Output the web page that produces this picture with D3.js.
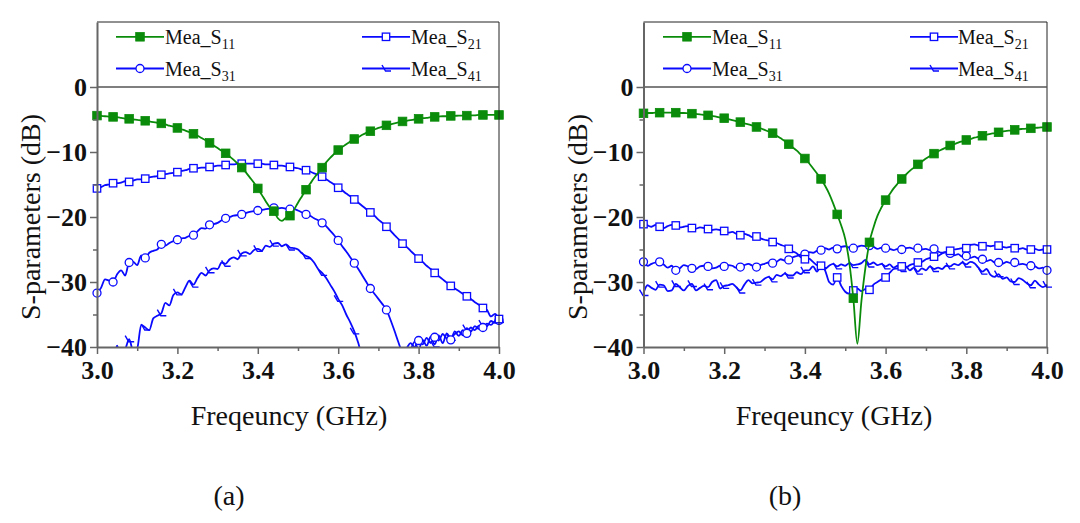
<!DOCTYPE html>
<html>
<head>
<meta charset="utf-8">
<script src="https://cdnjs.cloudflare.com/ajax/libs/d3/7.8.5/d3.min.js"></script>
<style>
  html, body { margin: 0; padding: 0; background: #fff; }
  svg { display: block; }
</style>
</head>
<body>
<svg id="chart" width="1080" height="523"></svg>
<script>
// ---------- data ----------
const freq = d3.range(101).map(i => +(3 + i * 0.01).toFixed(2)); // 3.00 .. 4.00 GHz
const xTicks = [3.0, 3.2, 3.4, 3.6, 3.8, 4.0];
const xMinorTicks = [3.1, 3.3, 3.5, 3.7, 3.9];
const yTicks = [0, -10, -20, -30, -40];
const yMinorTicks = [-5, -15, -25, -35];
const seriesNames = ["S11", "S21", "S31", "S41"];
const panelLabels = ["(a)", "(b)"];

// Panel (a)
const a_S11 = [-4.4,-4.45,-4.5,-4.55,-4.6,-4.65,-4.75,-4.85,-4.9,-5.0,-5.05,-5.15,-5.2,-5.3,-5.4,-5.5,-5.6,-5.75,-5.95,-6.1,
 -6.3,-6.5,-6.7,-6.95,-7.2,-7.5,-7.85,-8.2,-8.6,-9.0,-9.4,-9.8,-10.2,-10.7,-11.2,-11.8,-12.4,-13.1,-13.9,-14.7,
 -15.6,-16.6,-17.6,-18.5,-19.1,-20.2,-20.6,-20.1,-19.8,-18.9,-17.8,-16.8,-15.8,-14.9,-14.0,-13.2,-12.4,-11.6,-10.9,-10.3,
 -9.7,-9.25,-8.8,-8.4,-8.0,-7.7,-7.35,-7.05,-6.8,-6.55,-6.3,-6.1,-5.9,-5.75,-5.6,-5.45,-5.3,-5.2,-5.1,-5.0,
 -4.9,-4.8,-4.75,-4.65,-4.6,-4.55,-4.5,-4.5,-4.45,-4.45,-4.4,-4.4,-4.4,-4.35,-4.35,-4.3,-4.3,-4.3,-4.3,-4.3,-4.3];
const a_S21 = [-15.6,-15.4,-15.1,-15.0,-14.8,-14.8,-14.7,-14.5,-14.6,-14.4,-14.2,-14.2,-14.1,-13.9,-13.8,-13.7,-13.5,-13.4,-13.3,-13.2,
 -13.1,-12.9,-12.8,-12.6,-12.5,-12.5,-12.4,-12.4,-12.3,-12.2,-12.1,-12.1,-12.0,-11.9,-11.9,-11.8,-11.8,-11.8,-11.8,-11.8,
 -11.8,-11.8,-11.9,-11.9,-12.0,-12.1,-12.1,-12.2,-12.3,-12.4,-12.5,-12.7,-12.8,-13.0,-13.3,-13.5,-13.8,-14.2,-14.6,-15.0,
 -15.5,-15.9,-16.4,-16.8,-17.3,-17.8,-18.3,-18.8,-19.3,-19.8,-20.4,-20.9,-21.5,-22.1,-22.8,-23.4,-24.1,-24.6,-25.2,-25.8,
 -26.4,-26.9,-27.5,-28.0,-28.6,-29.1,-29.6,-30.1,-30.6,-31.0,-31.4,-31.8,-32.2,-32.6,-33.1,-33.5,-34.0,-34.3,-35.3,-34.9,-35.7];
const a_S31 = [-31.7,-30.9,-29.6,-29.8,-30.0,-28.8,-28.2,-29.0,-27.0,-26.9,-27.4,-25.9,-26.3,-25.5,-25.2,-25.0,-24.2,-24.4,-24.0,-23.7,
 -23.5,-23.3,-23.2,-22.9,-22.8,-22.2,-21.7,-21.8,-21.2,-21.1,-20.9,-20.5,-20.2,-20.0,-19.8,-19.7,-19.6,-19.4,-19.2,-19.1,
 -19.0,-18.9,-18.8,-18.7,-18.6,-18.7,-18.6,-18.7,-18.8,-18.8,-19.0,-19.3,-19.6,-19.8,-20.2,-20.5,-20.9,-21.4,-22.1,-22.8,
 -23.6,-24.5,-25.3,-26.2,-27.1,-28.0,-29.0,-30.0,-31.0,-31.8,-32.6,-33.4,-34.3,-35.8,-37.5,-39.3,-40.8,-40.2,-39.4,-40.0,
 -39.0,-39.6,-38.6,-39.4,-38.5,-39.0,-38.0,-38.7,-38.9,-37.6,-38.3,-37.4,-37.9,-37.0,-37.4,-36.7,-37.0,-36.4,-36.6,-36.0,-35.9];
const a_S41 = [-42,-42,-42,-42,-42,-39.8,-42,-40.5,-38.8,-40.6,-40.2,-36.6,-37.0,-37.4,-35.6,-35.2,-34.8,-33.2,-33.6,-32.0,
 -31.6,-31.9,-30.8,-29.8,-30.4,-29.4,-28.6,-29.0,-28.2,-27.9,-28.0,-27.0,-27.2,-26.5,-26.2,-26.5,-25.6,-25.4,-25.7,-25.1,
 -24.9,-25.2,-24.4,-24.6,-24.1,-24.0,-24.5,-24.2,-24.7,-24.8,-25.0,-25.6,-26.0,-26.3,-27.0,-28.0,-28.6,-29.4,-30.4,-31.4,
 -32.6,-33.6,-35.0,-36.2,-37.6,-39.4,-41.5,-42,-42,-42,-42,-42,-42,-42,-42,-42,-42,-42,-40.5,-39.2,
 -40.4,-38.9,-39.8,-38.4,-39.6,-38.2,-39.4,-37.9,-38.6,-38.0,-37.6,-38.2,-37.1,-37.6,-36.8,-37.2,-36.4,-36.8,-36.0,-36.3,-35.8];

// Panel (b)
const b_S11 = [-4.05,-4.0,-4.0,-3.95,-3.95,-3.95,-3.95,-3.95,-3.95,-4.0,-4.0,-4.05,-4.1,-4.15,-4.2,-4.3,-4.36,-4.45,-4.55,-4.7,
 -4.8,-4.95,-5.1,-5.25,-5.4,-5.6,-5.75,-5.95,-6.15,-6.35,-6.6,-6.85,-7.1,-7.5,-7.9,-8.3,-8.8,-9.3,-9.8,-10.4,
 -11.0,-11.7,-12.5,-13.3,-14.15,-15.2,-16.4,-17.9,-19.6,-21.3,-23.4,-27.0,-32.5,-39.5,-33.0,-27.8,-23.9,-21.6,-19.8,-18.5,
 -17.4,-16.5,-15.6,-14.85,-14.15,-13.5,-12.9,-12.4,-11.9,-11.45,-11.0,-10.6,-10.25,-9.9,-9.6,-9.3,-9.0,-8.8,-8.55,-8.35,
 -8.15,-8.0,-7.8,-7.65,-7.5,-7.35,-7.2,-7.1,-6.97,-6.85,-6.75,-6.7,-6.6,-6.5,-6.45,-6.4,-6.36,-6.3,-6.25,-6.2,-6.15];
const b_S21 = [-21.1,-21.3,-21.5,-21.2,-21.5,-21.7,-21.4,-21.2,-21.3,-21.6,-21.5,-21.4,-21.7,-21.8,-21.6,-21.7,-21.85,-22.0,-21.9,-22.0,
 -22.15,-22.4,-22.3,-22.6,-22.8,-22.6,-22.8,-23.1,-23.0,-23.3,-23.5,-23.6,-23.85,-24.0,-24.3,-24.5,-24.9,-25.3,-25.6,-26.2,
 -26.5,-26.4,-26.9,-27.4,-27.5,-28.2,-30.0,-30.4,-29.3,-30.6,-31.5,-31.8,-31.3,-31.0,-31.4,-31.1,-31.2,-30.4,-30.0,-29.6,
 -29.3,-28.6,-28.0,-27.9,-27.6,-27.8,-27.4,-27.2,-27.0,-26.9,-26.5,-26.3,-26.1,-26.0,-25.6,-25.4,-25.2,-25.0,-24.9,-24.8,
 -24.8,-24.3,-24.2,-24.4,-24.5,-24.4,-24.5,-24.4,-24.4,-24.6,-24.7,-24.6,-24.8,-24.9,-24.8,-25.0,-25.0,-24.9,-25.1,-25.0,-25.0];
const b_S31 = [-26.9,-27.5,-27.2,-27.0,-26.9,-27.3,-27.8,-27.5,-28.2,-27.9,-27.4,-27.6,-27.9,-28.0,-27.6,-27.5,-27.6,-27.9,-27.8,-27.5,
 -27.6,-27.4,-27.5,-27.8,-27.7,-27.4,-27.2,-27.5,-27.7,-27.4,-27.2,-27.0,-27.1,-26.9,-26.5,-26.7,-26.6,-26.2,-26.0,-25.8,
 -25.7,-25.4,-25.5,-25.2,-25.1,-24.8,-25.0,-24.7,-24.9,-24.6,-24.5,-24.7,-24.8,-24.6,-24.4,-24.5,-24.4,-24.6,-24.9,-24.7,
 -24.8,-24.9,-25.1,-24.9,-25.0,-24.8,-24.7,-24.9,-24.8,-25.0,-24.9,-25.1,-24.9,-25.3,-25.5,-25.4,-25.6,-25.9,-25.7,-26.1,
 -26.0,-26.3,-26.1,-26.4,-26.5,-26.8,-26.6,-27.0,-27.0,-27.2,-26.9,-27.1,-27.0,-27.3,-27.2,-27.4,-27.5,-27.6,-27.9,-27.8,-28.2];
const b_S41 = [-31.7,-30.5,-30.9,-31.2,-30.4,-30.5,-31.4,-31.3,-30.3,-30.8,-31.3,-30.6,-30.3,-31.3,-30.9,-30.6,-30.8,-30.0,-29.7,-31.0,
 -30.6,-30.5,-30.3,-30.8,-31.3,-30.4,-29.7,-30.2,-30.1,-30.0,-29.5,-29.2,-29.6,-28.9,-29.1,-28.7,-29.0,-29.0,-28.5,-28.8,
 -28.2,-28.2,-27.6,-28.4,-27.4,-28.0,-27.5,-27.2,-27.6,-27.3,-27.5,-27.1,-27.4,-27.3,-27.1,-26.6,-27.3,-27.0,-27.4,-27.2,
 -27.6,-27.3,-27.8,-27.5,-28.0,-27.6,-28.2,-27.8,-28.4,-27.9,-28.2,-27.6,-28.0,-27.8,-28.0,-27.5,-27.6,-27.2,-27.4,-27.0,
 -27.3,-26.9,-27.1,-27.8,-28.4,-28.0,-28.9,-29.2,-28.8,-29.5,-29.3,-29.9,-30.0,-29.4,-29.7,-30.2,-30.5,-29.8,-30.4,-30.8,-30.4];

// ---------- drawing ----------
const SERIF = "'Liberation Serif', 'Times New Roman', serif";
const svg = d3.select("#chart");
const GREEN = "#0a8c0a";
const BLUE = "#0a0aff";

const panels = [
  { left: 97, right: 499, series: [a_S11, a_S21, a_S31, a_S41], label: panelLabels[0], labelX: 229, titleX: 289, yTitleX: 30,
    legend: { c1Line: [116, 164], c1Text: 165, c2Line: [362, 410], c2Text: 411 } },
  { left: 643.5, right: 1047, series: [b_S11, b_S21, b_S31, b_S41], label: panelLabels[1], labelX: 785, titleX: 834, yTitleX: 577,
    legend: { c1Line: [663, 711], c1Text: 712, c2Line: [910, 958], c2Text: 958 } }
];

const TOP = 22, BOTTOM = 347;
const styles = [
  { color: GREEN, marker: "fsquare" },
  { color: BLUE, marker: "osquare" },
  { color: BLUE, marker: "circle" },
  { color: BLUE, marker: "hook" }
];

function drawMarker(sel, type, color) {
  if (type === "fsquare") {
    sel.append("rect").attr("x", -4.3).attr("y", -4.3).attr("width", 8.6).attr("height", 8.6)
      .attr("fill", color).attr("stroke", color).attr("stroke-width", 0.8);
  } else if (type === "osquare") {
    sel.append("rect").attr("x", -3.7).attr("y", -3.7).attr("width", 7.4).attr("height", 7.4)
      .attr("fill", "#fff").attr("stroke", color).attr("stroke-width", 1.3);
  } else if (type === "circle") {
    sel.append("circle").attr("r", 4).attr("fill", "#fff").attr("stroke", color).attr("stroke-width", 1.3);
  } else {
    sel.append("path").attr("d", "M-4,-3.5 L-0.5,2.5 L5,2.5").attr("fill", "none")
      .attr("stroke", color).attr("stroke-width", 1.4);
  }
}

function serif(sel) { return sel.style("font-family", SERIF).style("fill", "#111"); }

panels.forEach((p, pi) => {
  const x = d3.scaleLinear().domain([3.0, 4.0]).range([p.left, p.right]);
  const y = d3.scaleLinear().domain([-40, 10]).range([BOTTOM, TOP]);
  const g = svg.append("g");

  const clipId = "clip" + pi;
  svg.append("defs").append("clipPath").attr("id", clipId)
    .append("rect").attr("x", p.left - 8).attr("y", y(0))
    .attr("width", p.right - p.left + 16).attr("height", y(-40) - y(0));

  // series
  const line = d3.line().x((d, i) => x(freq[i])).y(d => y(d)).curve(d3.curveMonotoneX);
  const plot = g.append("g").attr("clip-path", `url(#${clipId})`);
  [3, 2, 1, 0].forEach(si => {
    const vals = p.series[si];
    const st = styles[si];
    plot.append("path").datum(vals).attr("d", line)
      .attr("fill", "none").attr("stroke", st.color).attr("stroke-width", 1.8)
      .attr("stroke-linejoin", "round");
    const mk = vals.map((v, i) => ({ v, i })).filter(d => d.i % 4 === 0);
    mk.forEach(d => {
      const m = plot.append("g").attr("transform", `translate(${x(freq[d.i])},${y(d.v)})`);
      drawMarker(m, st.marker, st.color);
    });
  });

  // frame: top, right, legend separator
  g.append("line").attr("x1", p.left).attr("x2", p.right).attr("y1", TOP).attr("y2", TOP)
    .attr("stroke", "#222").attr("stroke-width", 1);
  g.append("line").attr("x1", p.right).attr("x2", p.right).attr("y1", TOP).attr("y2", BOTTOM)
    .attr("stroke", "#222").attr("stroke-width", 1);
  g.append("line").attr("x1", p.left).attr("x2", p.right).attr("y1", y(0)).attr("y2", y(0))
    .attr("stroke", "#555").attr("stroke-width", 1.5);

  // axes
  const xAxis = g.append("g").attr("transform", `translate(0,${BOTTOM})`)
    .call(d3.axisBottom(x).tickValues(xTicks).tickSize(7).tickSizeOuter(0).tickFormat(d3.format(".1f")));
  g.append("g").attr("transform", `translate(0,${BOTTOM})`)
    .call(d3.axisBottom(x).tickValues(xMinorTicks).tickSize(4).tickFormat(""))
    .call(s => s.select(".domain").remove());
  const yAxis = g.append("g").attr("transform", `translate(${p.left},0)`)
    .call(d3.axisLeft(y).tickValues(yTicks).tickSize(7).tickSizeOuter(0).tickFormat(d3.format("d")));
  g.append("g").attr("transform", `translate(${p.left},0)`)
    .call(d3.axisLeft(y).tickValues(yMinorTicks).tickSize(4).tickFormat(""))
    .call(s => s.select(".domain").remove());

  g.selectAll(".domain").attr("stroke", "#666").attr("stroke-width", 2);
  g.selectAll(".tick line").attr("stroke", "#666").attr("stroke-width", 1.5);
  serif(xAxis.selectAll(".tick text")).style("font-size", "26px").style("font-weight", "bold")
    .attr("dy", "0.95em").attr("y", 7);
  serif(yAxis.selectAll(".tick text")).style("font-size", "26px").style("font-weight", "bold")
    .attr("x", -10).attr("dy", "0.34em");

  // axis titles
  serif(g.append("text")).attr("x", p.titleX).attr("y", 425).attr("text-anchor", "middle")
    .style("font-size", "28px").text("Freqeuncy (GHz)");
  serif(g.append("text")).attr("transform", `translate(${p.yTitleX},${y(-20)}) rotate(-90)`)
    .attr("text-anchor", "middle").attr("dy", "0.35em").style("font-size", "28px").text("S-parameters (dB)");
  serif(g.append("text")).attr("x", p.labelX).attr("y", 505).attr("text-anchor", "middle")
    .style("font-size", "28px").text(p.label);

  // legend
  const L = p.legend;
  const rows = [36.8, 68.5];
  const entries = [
    { si: 0, col: 0, row: 0 }, { si: 1, col: 1, row: 0 },
    { si: 2, col: 0, row: 1 }, { si: 3, col: 1, row: 1 }
  ];
  entries.forEach(e => {
    const st = styles[e.si];
    const ln = e.col === 0 ? L.c1Line : L.c2Line;
    const tx = e.col === 0 ? L.c1Text : L.c2Text;
    const ly = rows[e.row];
    g.append("line").attr("x1", ln[0]).attr("x2", ln[1]).attr("y1", ly).attr("y2", ly)
      .attr("stroke", st.color).attr("stroke-width", 1.8);
    const m = g.append("g").attr("transform", `translate(${(ln[0] + ln[1]) / 2},${ly})`);
    drawMarker(m, st.marker, st.color);
    const t = serif(g.append("text")).attr("x", tx).attr("y", ly + 7).style("font-size", "20px");
    t.append("tspan").text("Mea_S");
    t.append("tspan").style("font-size", "14px").attr("dy", 5).text(seriesNames[e.si].slice(1));
  });
});
</script>
</body>
</html>
